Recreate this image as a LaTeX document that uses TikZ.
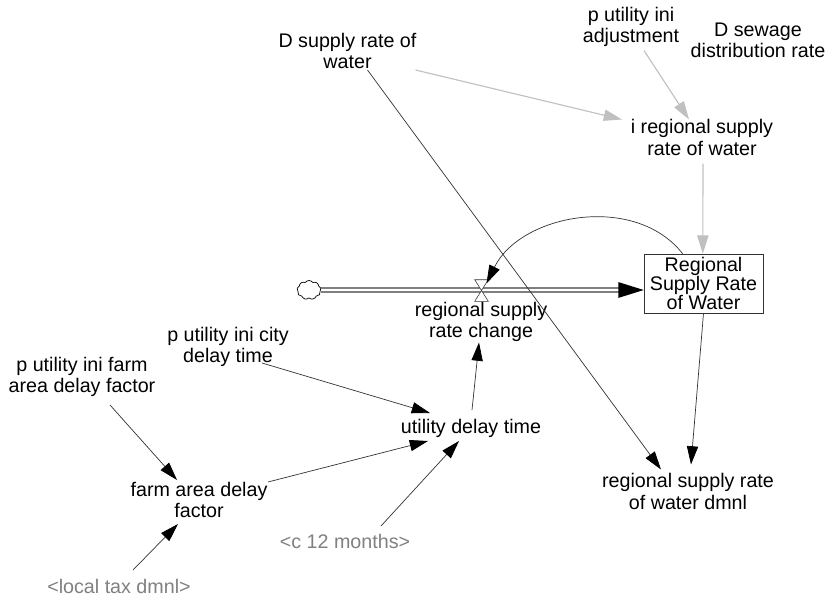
\documentclass[tikz,border=0pt]{standalone}
\usepackage{fontspec}
\setmainfont{Liberation Sans}
\usetikzlibrary{arrows.meta,shapes.symbols}
\definecolor{g1}{HTML}{C0C0C0}
\definecolor{g2}{HTML}{808080}
\definecolor{g3}{HTML}{333333}
\begin{document}
\begin{tikzpicture}[x=0.025cm,y=-0.025cm,
var/.style={align=center,inner sep=1pt,font=\fontsize{14}{15}\selectfont},
shadow/.style={var,text=g2},
link/.style={draw=g3,line width=0.5pt,-{Triangle[length=13pt,width=8pt,color=black,fill=black]}},
lightlink/.style={draw=g1,line width=0.8pt,-{Triangle[length=13pt,width=8pt,fill=g1]}},
flow/.style={draw=g2,line width=0.9pt,double=white,double distance=1.8pt,-{Triangle[length=18pt,width=11pt,color=black,fill=black]}},
valve/.style={minimum width=13*0.025cm,minimum height=21*0.025cm,inner sep=0pt},
]
\useasboundingbox (0,0) rectangle (828,598);
\node[var] (dsupply) at (347.5,51) {D supply rate of\\water};
\node[var] (adjust) at (631,26.5) {p utility ini\\adjustment};
\node[var] (sewage) at (758,40.5) {D sewage\\distribution rate};
\node[var] (iregional) at (702,137.5) {i regional supply\\rate of water};
\node[draw=g3,var,font=\fontsize{14}{13.5}\selectfont,minimum width=119*0.025cm,minimum height=59*0.025cm,inner sep=0pt] (stock) at (703.5,283.5) {Regional\\Supply Rate\\of Water};
\node[valve] (gate) at (481.5,290.5) {};
\node[draw=black,cloud,cloud puffs=9,cloud puff arc=110,aspect=1.3,minimum width=24*0.025cm,minimum height=19*0.025cm,inner sep=0pt,line width=0.5pt] (source) at (309,290) {};
\node[var] (change) at (481,321.5) {regional supply\\rate change};
\node[var] (city) at (228,347) {p utility ini city\\delay time};
\node[var] (farmfactor) at (82,377) {p utility ini farm\\area delay factor};
\node[var] (delay) at (471,428) {utility delay time};
\node[var] (farm) at (199,500) {farm area delay\\factor};
\node[shadow] (months) at (345,541) {<c 12 months>};
\node[shadow] (tax) at (119,586) {<local tax dmnl>};
\node[var] (dmnl) at (688,491.5) {regional supply rate\\of water dmnl};

\draw[flow] (source.east) -- (stock.west |- source.east);
\draw[fill=white,draw=g3,line width=0.4pt] (gate.north west) -- (gate.north east) -- (gate.south west) -- (gate.south east) -- cycle;

\draw[lightlink] ([shift={(68,19)}]dsupply.center) -- ([shift={(-80,-18)}]iregional.center);
\draw[lightlink] ([shift={(13,24)}]adjust.center) -- ([shift={(-13,-18)}]iregional.center);
\draw[lightlink] ([shift={(1,26)}]iregional.center) -- ([xshift=-0.5pt]stock.north);
\draw[link] (stock.125) to[out=128,in=64] ([shift={(5,-7)}]gate.center);
\draw[link] ([shift={(20,19)}]dsupply.center) -- ([shift={(-27,-22)}]dmnl.center);
\draw[link] (stock.south) -- ([shift={(3,-27)}]dmnl.center);
\draw[link] ([shift={(1,-18)}]delay.center) -- ([shift={(-2,21)}]change.center);
\draw[link] ([shift={(34,16)}]city.center) -- ([shift={(-41,-15)}]delay.center);
\draw[link] ([shift={(69,-18)}]farm.center) -- ([shift={(-43,13)}]delay.center);
\draw[link] ([shift={(28,28)}]farmfactor.center) -- ([shift={(-22,-20)}]farm.center);
\draw[link] ([shift={(36,-15)}]months.center) -- ([shift={(-12,13)}]delay.center);
\draw[link] ([shift={(14,-16)}]tax.center) -- ([shift={(-21,24)}]farm.center);
\end{tikzpicture}
\end{document}
